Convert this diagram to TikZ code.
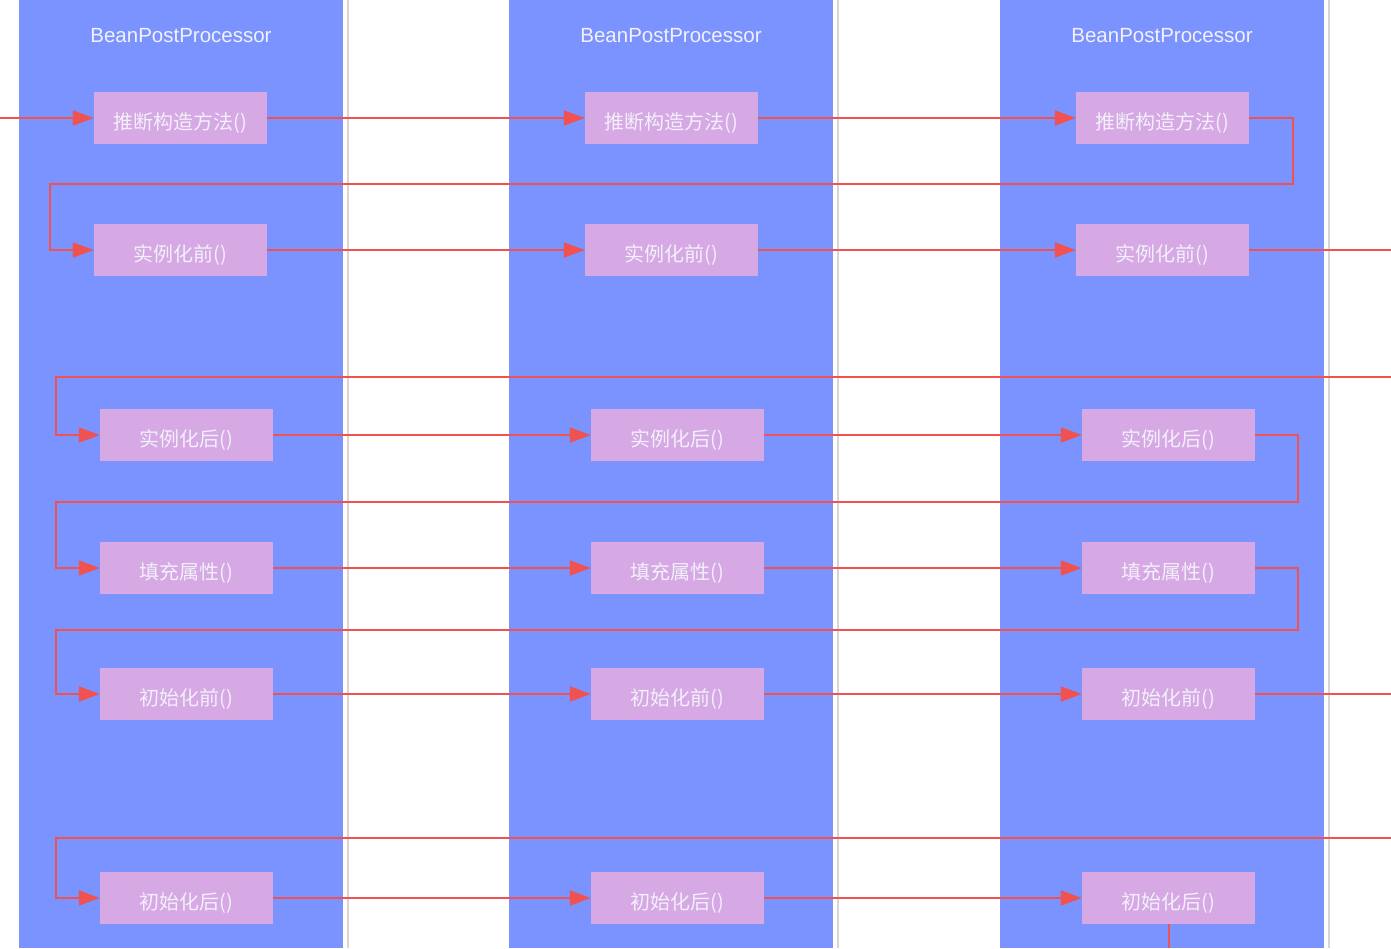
\documentclass[tikz,border=0pt]{standalone}
\usepackage{fontspec}
\setmainfont{Liberation Sans}
\newfontfamily\cjk{Noto Sans CJK SC}
\usetikzlibrary{arrows.meta}
\definecolor{lanebl}{RGB}{122,147,255}
\definecolor{boxpk}{RGB}{214,168,228}
\definecolor{txtw}{RGB}{242,240,250}
\definecolor{redln}{RGB}{240,82,82}
\definecolor{sepgr}{RGB}{214,214,214}
\tikzset{
  lane/.style={fill=lanebl,draw=none},
  sepline/.style={draw=sepgr,line width=2pt},
  lanetitle/.style={text=txtw,font=\fontsize{20.5}{24}\selectfont,inner sep=0pt},
  stepbox/.style={fill=boxpk,draw=none,minimum width=173pt,minimum height=52pt,inner sep=0pt,text height=26pt,text depth=4pt,text=txtw,font=\cjk\fontsize{20}{24}\selectfont},
  conn/.style={draw=redln,line width=2pt},
  arr/.style={conn,-{Triangle[length=21pt,width=15pt]}}
}
\begin{document}
\begin{tikzpicture}[x=1pt,y=-1pt]
\useasboundingbox (0,0) rectangle (1391,948);
\fill[white] (0,0) rectangle (1391,948);
% lanes
\fill[lane] (19,0) rectangle (343,948);
\fill[lane] (509,0) rectangle (833,948);
\fill[lane] (1000,0) rectangle (1324,948);
\draw[sepline] (348,0) -- (348,948);
\draw[sepline] (838,0) -- (838,948);
\draw[sepline] (1329,0) -- (1329,948);
% titles
\node[lanetitle] (t1) at (181,35.5) {BeanPostProcessor};
\node[lanetitle] (t2) at (671,35.5) {BeanPostProcessor};
\node[lanetitle] (t3) at (1162,35.5) {BeanPostProcessor};
% boxes
\foreach \c/\x in {a/180.5,b/671.5,c/1162.5}{
  \node[stepbox] (\c1) at (\x,118) {推断构造方法()};
  \node[stepbox] (\c2) at (\x,250) {实例化前()};
}
\foreach \c/\x in {a/186.5,b/677.5,c/1168.5}{
  \node[stepbox] (\c3) at (\x,435) {实例化后()};
  \node[stepbox] (\c4) at (\x,568) {填充属性()};
  \node[stepbox] (\c5) at (\x,694) {初始化前()};
  \node[stepbox] (\c6) at (\x,898) {初始化后()};
}
% free ends and bends
\coordinate (in1) at (0,118);
\coordinate (r1) at (1293,184);
\coordinate (l1) at (50,184);
\coordinate (out2) at (1391,250);
\coordinate (in3) at (1391,377);
\coordinate (l3) at (56,377);
\coordinate (r3) at (1298,502);
\coordinate (l4) at (56,502);
\coordinate (r4) at (1298,630);
\coordinate (l5) at (56,630);
\coordinate (out5) at (1391,694);
\coordinate (in6) at (1391,838);
\coordinate (l6) at (56,838);
\coordinate (out6) at (1168.5,948);
% row 1
\draw[arr] (in1) -- (a1.west);
\draw[arr] (a1.east) -- (b1.west);
\draw[arr] (b1.east) -- (c1.west);
\draw[arr] (c1.east) -| (r1) -- (l1) |- (a2.west);
% row 2
\draw[arr] (a2.east) -- (b2.west);
\draw[arr] (b2.east) -- (c2.west);
\draw[conn] (c2.east) -- (out2);
% row 3
\draw[arr] (in3) -- (l3) |- (a3.west);
\draw[arr] (a3.east) -- (b3.west);
\draw[arr] (b3.east) -- (c3.west);
\draw[arr] (c3.east) -| (r3) -- (l4) |- (a4.west);
% row 4
\draw[arr] (a4.east) -- (b4.west);
\draw[arr] (b4.east) -- (c4.west);
\draw[arr] (c4.east) -| (r4) -- (l5) |- (a5.west);
% row 5
\draw[arr] (a5.east) -- (b5.west);
\draw[arr] (b5.east) -- (c5.west);
\draw[conn] (c5.east) -- (out5);
% row 6
\draw[arr] (in6) -- (l6) |- (a6.west);
\draw[arr] (a6.east) -- (b6.west);
\draw[arr] (b6.east) -- (c6.west);
\draw[conn] (c6.south) -- (out6);
\end{tikzpicture}
\end{document}
